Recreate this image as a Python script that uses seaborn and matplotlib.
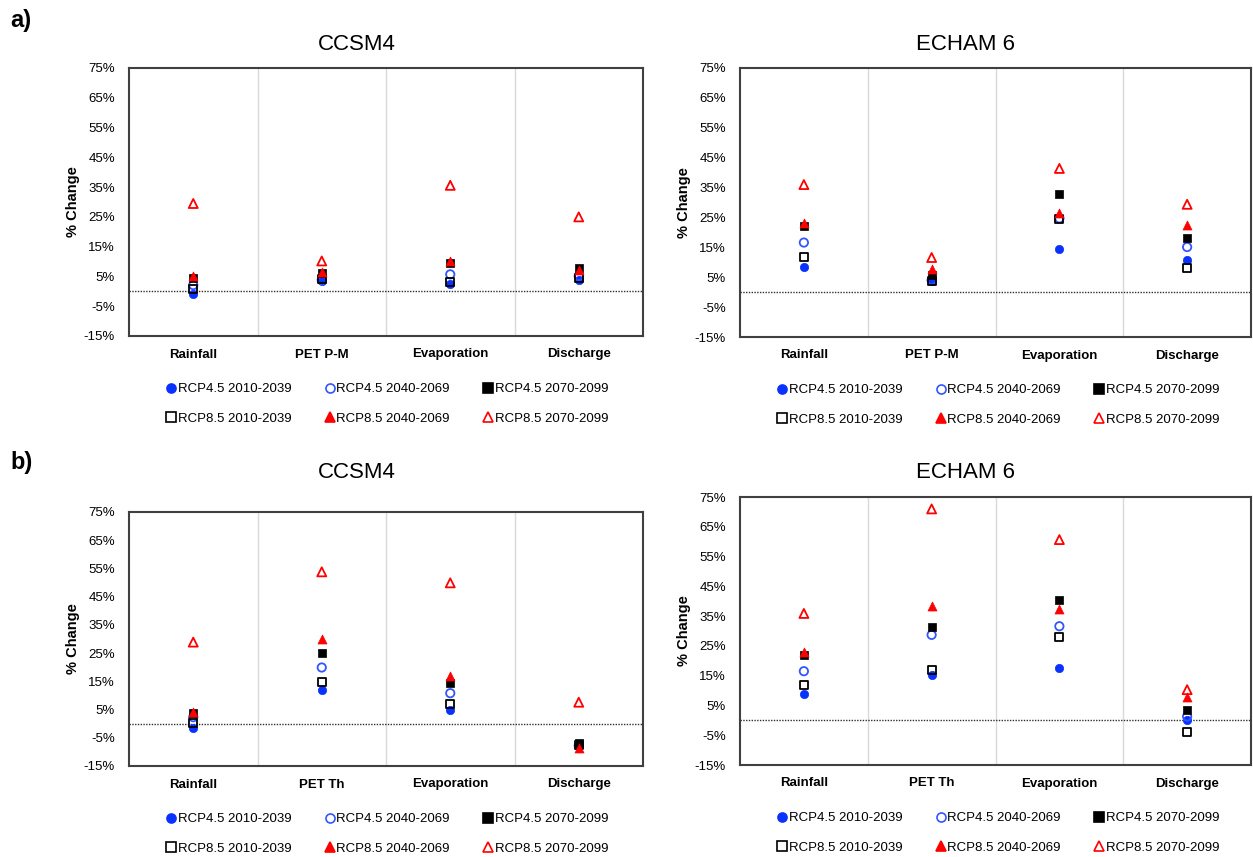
import matplotlib
matplotlib.use("Agg")
import matplotlib.pyplot as plt
import seaborn as sns
from matplotlib.lines import Line2D
from matplotlib.ticker import FixedLocator, FuncFormatter

# ---------------- data (% change) ----------------
cats_a = ["Rainfall", "PET P-M", "Evaporation", "Discharge"]
cats_b = ["Rainfall", "PET Th", "Evaporation", "Discharge"]
series_labels = ["RCP4.5 2010-2039", "RCP4.5 2040-2069", "RCP4.5 2070-2099",
                 "RCP8.5 2010-2039", "RCP8.5 2040-2069", "RCP8.5 2070-2099"]
yticks = [-15, -5, 5, 15, 25, 35, 45, 55, 65, 75]

# a) CCSM4
a_ccsm4_45_2010 = [-0.8, 3.5, 2.3, 3.7]
a_ccsm4_45_2040 = [2.1, 3.8, 5.7, 5.1]
a_ccsm4_45_2070 = [4.5, 6.0, 9.5, 7.7]
a_ccsm4_85_2010 = [0.7, 4.0, 3.2, 4.6]
a_ccsm4_85_2040 = [5.1, 6.5, 10.2, 7.2]
a_ccsm4_85_2070 = [29.5, 10.2, 35.6, 25.0]
# a) ECHAM 6
a_echam_45_2010 = [8.5, 3.7, 14.3, 10.7]
a_echam_45_2040 = [16.6, 4.0, 24.7, 15.1]
a_echam_45_2070 = [22.1, 5.7, 32.9, 18.0]
a_echam_85_2010 = [11.9, 3.7, 24.4, 8.2]
a_echam_85_2040 = [23.0, 7.7, 26.6, 22.6]
a_echam_85_2070 = [36.0, 11.6, 41.4, 29.4]
# b) CCSM4
b_ccsm4_45_2010 = [-1.4, 12.0, 4.9, -8.0]
b_ccsm4_45_2040 = [2.3, 19.9, 10.8, -7.8]
b_ccsm4_45_2070 = [3.9, 25.1, 14.5, -7.0]
b_ccsm4_85_2010 = [0.1, 14.7, 7.0, -7.5]
b_ccsm4_85_2040 = [4.3, 29.9, 16.9, -8.5]
b_ccsm4_85_2070 = [28.9, 53.8, 49.9, 7.6]
# b) ECHAM 6
b_echam_45_2010 = [8.8, 15.1, 17.6, 0.0]
b_echam_45_2040 = [16.5, 28.7, 31.6, 1.3]
b_echam_45_2070 = [22.1, 31.2, 40.3, 3.6]
b_echam_85_2010 = [11.8, 16.8, 27.9, -3.9]
b_echam_85_2040 = [23.0, 38.5, 37.3, 7.8]
b_echam_85_2070 = [35.9, 71.0, 60.7, 10.3]

# ---------------- styling ----------------
sns.set_theme(style="white")
plt.rcParams["font.family"] = ["Liberation Sans", "DejaVu Sans"]
plt.rcParams["text.color"] = "black"
plt.rcParams["xtick.color"] = "black"
plt.rcParams["ytick.color"] = "black"
plt.rcParams["axes.labelcolor"] = "black"
NARROW = ["Liberation Sans Narrow", "Liberation Sans", "DejaVu Sans"]

BLUE = "#0a32ff"
BLUE_O = "#3355ff"
RED = "#ff0000"
# marker, face, edge, size
styles = [
    ("o", BLUE, BLUE, 36),
    ("o", "none", BLUE_O, 36),
    ("s", "black", "black", 34),
    ("s", "none", "black", 34),
    ("^", RED, RED, 42),
    ("^", "none", RED, 42),
]

W, H = 1253, 857
fig = plt.figure(figsize=(W / 100, H / 100), dpi=100)


def px_axes(left, top, right, bottom):
    return fig.add_axes([left / W, 1 - bottom / H, (right - left) / W, (bottom - top) / H])


panels = [
    (px_axes(129, 68, 643, 336), "CCSM4", cats_a,
     [a_ccsm4_45_2010, a_ccsm4_45_2040, a_ccsm4_45_2070,
      a_ccsm4_85_2010, a_ccsm4_85_2040, a_ccsm4_85_2070], 357, 45),
    (px_axes(740, 68, 1251, 337), "ECHAM 6", cats_a,
     [a_echam_45_2010, a_echam_45_2040, a_echam_45_2070,
      a_echam_85_2010, a_echam_85_2040, a_echam_85_2070], 966, 45),
    (px_axes(129, 512, 643, 766), "CCSM4", cats_b,
     [b_ccsm4_45_2010, b_ccsm4_45_2040, b_ccsm4_45_2070,
      b_ccsm4_85_2010, b_ccsm4_85_2040, b_ccsm4_85_2070], 357, 472),
    (px_axes(740, 497, 1251, 765), "ECHAM 6", cats_b,
     [b_echam_45_2010, b_echam_45_2040, b_echam_45_2070,
      b_echam_85_2010, b_echam_85_2040, b_echam_85_2070], 966, 472),
]

for ax, title, cats, series, tx, ty in panels:
    for vals, (m, fc, ec, s) in zip(series, styles):
        if fc == "none":
            sns.scatterplot(x=cats, y=vals, ax=ax, marker=m, s=s,
                            facecolor="none", edgecolor=ec, linewidth=1.3, zorder=3)
        else:
            sns.scatterplot(x=cats, y=vals, ax=ax, marker=m, s=s,
                            color=fc, edgecolor=ec, linewidth=0.5, zorder=3)
    ax.set_xlim(-0.5, 3.5)
    ax.set_ylim(-15, 75)
    ax.yaxis.set_major_locator(FixedLocator(yticks))
    ax.yaxis.set_major_formatter(FuncFormatter(lambda v, p: f"{v:.0f}%"))
    ax.set_xticks(range(len(cats)))
    ax.set_xticklabels(cats, fontweight="bold", fontsize=9.5, family=NARROW)
    for lab in ax.get_yticklabels():
        lab.set_fontsize(9.5)
        lab.set_family(NARROW)
    ax.xaxis.set_minor_locator(FixedLocator([0.5, 1.5, 2.5]))
    ax.grid(False)
    ax.grid(True, which="minor", axis="x", color="#d9d9d9", linewidth=1.0)
    ax.tick_params(axis="both", which="both", length=0)
    ax.tick_params(axis="y", pad=10)
    ax.tick_params(axis="x", pad=9)
    ax.axhline(0, color="#303030", linestyle=(0, (1, 1)), linewidth=1.0, zorder=2)
    for sp in ax.spines.values():
        sp.set_color("#404040")
        sp.set_linewidth(1.5)
    ax.set_xlabel("")
    ax.set_ylabel("% Change", fontweight="bold", fontsize=10.5, family=NARROW, labelpad=3)
    fig.text(tx / W, 1 - ty / H, title, ha="center", va="center", fontsize=16, family=NARROW)

    # legend (row-wise order in a 3-column layout)
    handles = []
    for (m, fc, ec, s), lab in zip(styles, series_labels):
        handles.append(Line2D([], [], linestyle="none", marker=m,
                              markersize=6.5 if m != "^" else 7,
                              markerfacecolor=fc, markeredgecolor=ec,
                              markeredgewidth=1.2, label=lab))
    order = [0, 3, 1, 4, 2, 5]
    bbox = ax.get_position()
    legend_top = (bbox.y0 * H) - 47  # px from bottom
    ax.legend([handles[i] for i in order], [series_labels[i] for i in order],
              ncol=3, loc="upper left", frameon=False,
              bbox_to_anchor=((bbox.x0 * W + 37) / W, legend_top / H),
              bbox_transform=fig.transFigure,
              handlelength=0.8, handletextpad=0.1, columnspacing=2.5,
              labelspacing=1.3, borderpad=0, borderaxespad=0, fontsize=9.5)

fig.text(10 / W, 1 - 20 / H, "a)", fontsize=17, fontweight="bold", va="center", ha="left")
fig.text(10 / W, 1 - 463 / H, "b)", fontsize=17, fontweight="bold", va="center", ha="left")

fig.savefig("out.png", dpi=100)
